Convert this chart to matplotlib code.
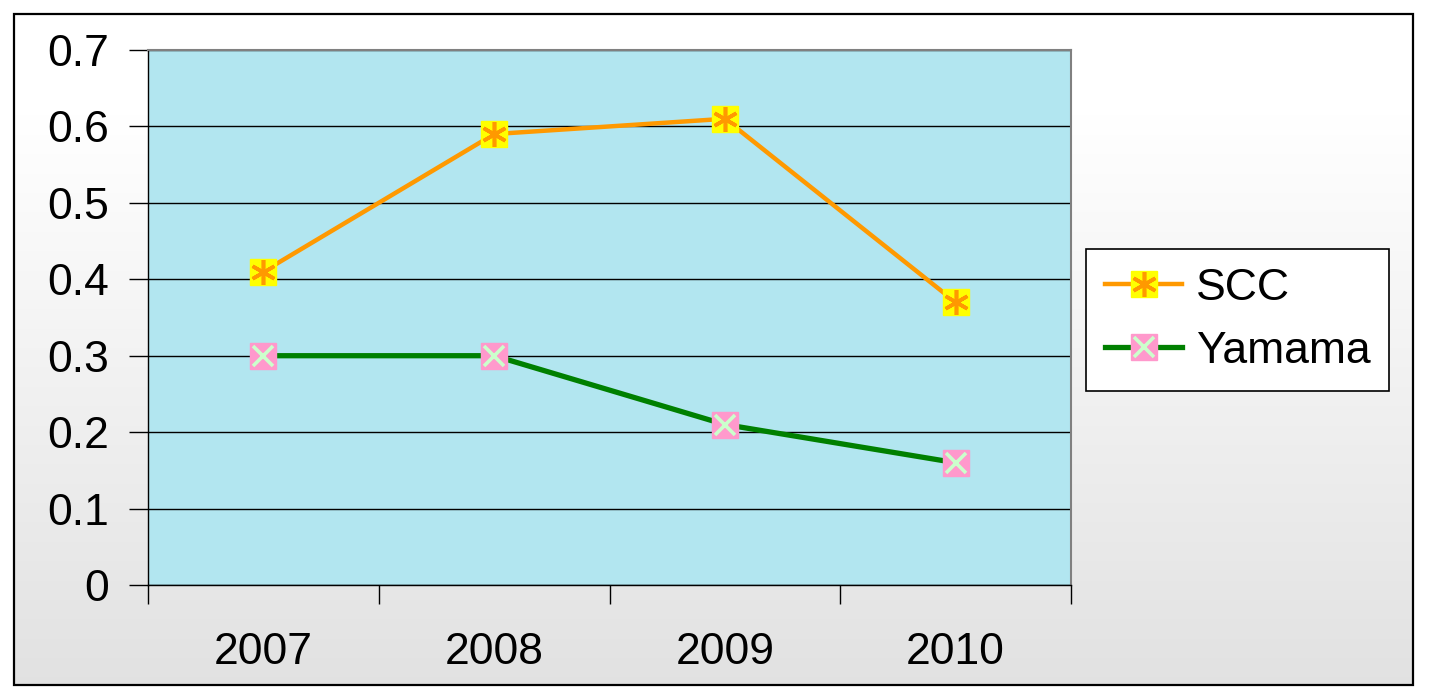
import numpy as np
import matplotlib.pyplot as plt
from matplotlib.patches import Rectangle
from matplotlib.lines import Line2D

plt.rcParams['font.family'] = ['Liberation Sans', 'DejaVu Sans']

years = ["2007", "2008", "2009", "2010"]
scc = [0.41, 0.59, 0.61, 0.37]
yamama = [0.30, 0.30, 0.21, 0.16]
yticks = [0, 0.1, 0.2, 0.3, 0.4, 0.5, 0.6, 0.7]

W, H = 1429, 699
fig = plt.figure(figsize=(W / 100, H / 100), dpi=100)

# background gradient inside the outer border
bg = fig.add_axes([0, 0, 1, 1], zorder=0)
bg.set_xlim(0, W)
bg.set_ylim(H, 0)
bg.axis("off")
t = np.linspace(0, 1, 256)
grad = np.where(t < 0.15, 1.0, 1.0 - (t - 0.15) / 0.85 * 0.115)
img = np.repeat(grad[:, None], 2, axis=1)
bg.imshow(np.dstack([img, img, img]), extent=[14, 1413, 685, 14], aspect="auto", interpolation="bilinear")
bg.add_patch(Rectangle((14, 14), 1399, 671, fill=False, edgecolor="black", lw=1.6))

ax = fig.add_axes([148 / W, 1 - 585 / H, (1071 - 148) / W, (585 - 50) / H], zorder=1)
ax.set_facecolor("#B2E6F0")
x = np.arange(len(years))

scc_style = dict(ms=19, sym=(6, 2, 0), sym_ms=18, face="#FFFF00", edge="#FF9900", line="#FF9900", lw=3.2)
yam_style = dict(ms=19, sym="x", sym_ms=15, face="#FF99CC", edge="#CCFFCC", line="#008000", lw=3.8)

for vals, st in [(scc, scc_style), (yamama, yam_style)]:
    ax.plot(x, vals, color=st["line"], lw=st["lw"], zorder=3)
    ax.plot(x, vals, ls="none", marker="s", ms=st["ms"], mfc=st["face"], mec=st["face"], zorder=4)
    ax.plot(x, vals, ls="none", marker=st["sym"], ms=st["sym_ms"], mec=st["edge"], mew=2.6, zorder=5)

ax.set_xlim(-0.5, 3.5)
ax.set_ylim(0, 0.7)
ax.set_yticks(yticks)
ax.set_yticklabels([f"{v:g}" for v in yticks], fontsize=32)
ax.yaxis.grid(True, color="black", lw=1)
ax.set_axisbelow(True)
ax.set_xticks(np.arange(-0.5, 4, 1))
ax.set_xticklabels([])
ax.set_xticks(x, minor=True)
ax.set_xticklabels(years, minor=True, fontsize=32)
ax.tick_params(axis="x", which="major", length=14, width=1, direction="out")
ax.tick_params(axis="x", which="minor", length=0, pad=34)
ax.tick_params(axis="y", length=14, width=1, pad=14)
for s in ["top", "right"]:
    ax.spines[s].set_color("#808080")
    ax.spines[s].set_linewidth(1.5)
for s in ["left", "bottom"]:
    ax.spines[s].set_color("black")
    ax.spines[s].set_linewidth(1)

# legend
def handle(st):
    return (Line2D([], [], color=st["line"], lw=st["lw"]),
            Line2D([], [], ls="none", marker="s", ms=st["ms"], mfc=st["face"], mec=st["face"]),
            Line2D([], [], ls="none", marker=st["sym"], ms=st["sym_ms"], mec=st["edge"], mew=2.6))

leg = fig.legend([handle(scc_style), handle(yam_style)], ["SCC", "Yamama"], loc="upper left",
                 bbox_to_anchor=(1086 / W, 1 - 249 / H), fontsize=32,
                 frameon=True, fancybox=False, edgecolor="black", framealpha=1,
                 handlelength=1.75, handletextpad=0.3, labelspacing=0.5,
                 borderpad=0.42, borderaxespad=0)
leg.get_frame().set_linewidth(1.2)

fig.savefig("out.png", dpi=100)
